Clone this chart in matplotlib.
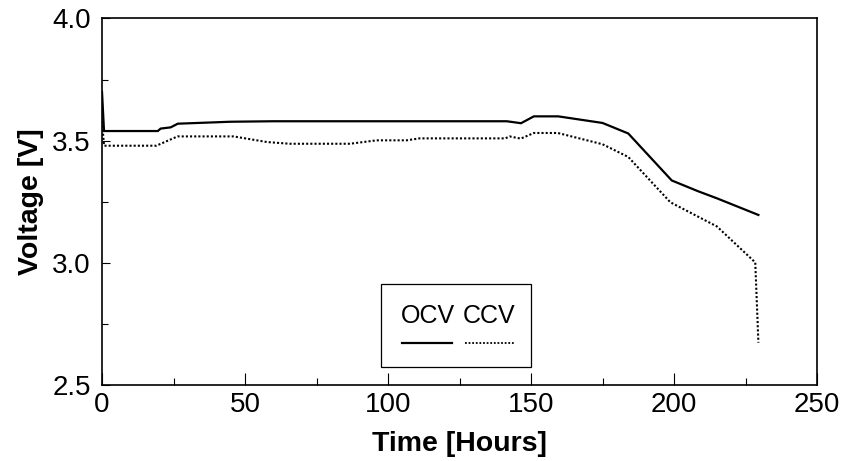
import matplotlib
matplotlib.use("Agg")
import matplotlib.pyplot as plt
from matplotlib.lines import Line2D
from matplotlib.patches import Rectangle
from matplotlib.ticker import MultipleLocator

plt.rcParams['font.family'] = ['Liberation Sans', 'DejaVu Sans']

# Open-circuit voltage over time
ocv_time = [0, 0.7, 19.5, 20.5, 24, 26.5, 45, 60, 141.5, 146.5, 151, 159.5, 175, 184, 199.2, 208.4, 215, 229.5]
ocv_volt = [3.70, 3.54, 3.54, 3.55, 3.555, 3.57, 3.578, 3.58, 3.58, 3.572, 3.60, 3.60, 3.573, 3.53, 3.338, 3.294, 3.265, 3.197]

# Closed-circuit voltage over time
ccv_time = [0, 0.7, 19, 26.4, 46, 57.7, 65.6, 86.7, 96, 106.5, 111, 141, 142.5, 146.4, 151, 159.4, 175, 184, 198.7, 215, 228.4, 229.5]
ccv_volt = [3.58, 3.48, 3.48, 3.518, 3.518, 3.495, 3.488, 3.488, 3.502, 3.502, 3.51, 3.51, 3.518, 3.509, 3.532, 3.532, 3.486, 3.434, 3.249, 3.15, 3.003, 2.675]

series_labels = ["OCV", "CCV"]

x_ticks = [0, 50, 100, 150, 200, 250]
y_ticks = [2.5, 3.0, 3.5, 4.0]

fig = plt.figure(figsize=(8.41, 4.61), dpi=100)
ax = fig.add_axes([0.1213, 0.1638, 0.8502, 0.7961])

ax.plot(ocv_time, ocv_volt, color='black', lw=1.6, solid_joinstyle='miter')
ax.plot(ccv_time, ccv_volt, color='black', lw=1.5, linestyle=(0, (1, 1)))

ax.set_xlim(0, 250)
ax.set_ylim(2.5, 4.0)
ax.set_xticks(x_ticks)
ax.set_yticks(y_ticks)
ax.set_xticklabels([str(v) for v in x_ticks])
ax.set_yticklabels([f"{v:.1f}" for v in y_ticks])
ax.xaxis.set_minor_locator(MultipleLocator(25))
ax.yaxis.set_minor_locator(MultipleLocator(0.25))

ax.tick_params(axis='both', which='both', direction='in', top=False, right=False,
               width=0.8, labelsize=20)
ax.tick_params(axis='x', which='major', length=9, pad=5)
ax.tick_params(axis='x', which='minor', length=5)
ax.tick_params(axis='y', which='major', length=6, pad=8)
ax.tick_params(axis='y', which='minor', length=4)

for sp in ax.spines.values():
    sp.set_linewidth(1.2)
    sp.set_color('black')

ax.set_xlabel("Time [Hours]", fontsize=20.5, fontweight='bold', labelpad=9)
ax.set_ylabel("Voltage [V]", fontsize=20.5, fontweight='bold', labelpad=6)

# Legend: labels above their line samples, in a framed box
box = Rectangle((0.390, 0.050), 0.210, 0.227, transform=ax.transAxes,
                facecolor='white', edgecolor='black', lw=0.9, zorder=5)
ax.add_patch(box)
label_y = 0.189
sample_y = 0.117
ax.text(0.456, label_y, series_labels[0], transform=ax.transAxes, fontsize=18,
        ha='center', va='center', zorder=6)
ax.text(0.541, label_y, series_labels[1], transform=ax.transAxes, fontsize=18,
        ha='center', va='center', zorder=6)
ax.add_line(Line2D([0.419, 0.489], [sample_y, sample_y], transform=ax.transAxes,
                   color='black', lw=1.6, zorder=6))
ax.add_line(Line2D([0.508, 0.578], [sample_y, sample_y], transform=ax.transAxes,
                   color='black', lw=1.3, linestyle=(0, (1, 1)), zorder=6))

fig.savefig("out.png", dpi=100)
